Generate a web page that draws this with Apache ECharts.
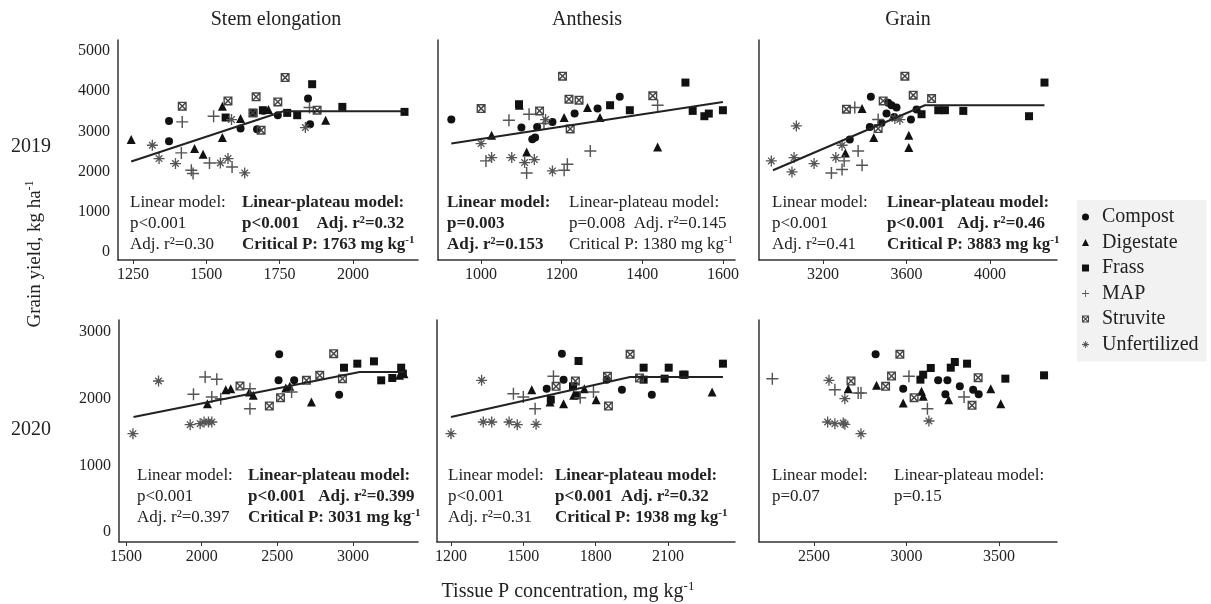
<!DOCTYPE html>
<html>
<head>
<meta charset="utf-8">
<title>Grain yield vs tissue P concentration</title>
<script src="https://cdn.jsdelivr.net/npm/echarts@6.0.0/dist/echarts.min.js"></script>
<style>
  html, body { margin: 0; padding: 0; background: #fff; }
  #main { width: 1211px; height: 604px; }
</style>
</head>
<body>
<div id="main"></div>
<script>
// treatment index used in the 3rd column of each point row
const treatments = ['Compost', 'Digestate', 'Frass', 'MAP', 'Struvite', 'Unfertilized'];

// [tissue P, grain yield, treatment]
const stem2019 = [
  [1244,2794,1],[1316,2653,5],[1339,2322,5],[1373,3259,0],[1373,2753,0],[1418,3234,3],
  [1418,3624,4],[1395,2197,5],[1415,2463,3],[1449,2032,3],[1455,1949,3],[1460,2570,1],
  [1489,2430,1],[1511,2214,3],[1525,3375,3],[1548,2214,5],[1574,2322,5],[1588,2114,3],
  [1631,1965,5],[1555,3624,1],[1574,3756,4],[1555,2844,1],[1566,3342,2],[1586,3292,5],
  [1617,3317,1],[1617,3068,0],[1659,3458,4],[1670,3856,4],[1661,3458,2],[1693,3524,2],
  [1695,3510,0],[1712,3541,1],[1687,3027,4],[1673,3051,0],[1744,3731,4],[1744,3400,0],
  [1769,4337,4],[1776,3458,2],[1810,3400,2],[1847,3814,0],[1861,4171,2],[1852,3590,3],
  [1878,3524,4],[1838,3093,5],[1854,3176,0],[1907,3275,1],[1964,3607,2],[2176,3483,2]
];
const anthesis2019 = [
  [926,3292,0],[1100,3093,0],[1127,2803,0],[1134,2844,0],[1139,3109,0],[1177,3234,0],
  [1232,3441,0],[1289,3566,0],[1344,3856,0],
  [1026,2902,1],[1095,3648,1],[1113,2488,1],[1206,3342,1],[1264,3590,1],[1295,3342,1],[1438,2612,1],
  [1094,3673,2],[1320,3648,2],[1369,3524,2],[1507,4212,2],[1525,3507,2],[1554,3375,2],[1565,3441,2],[1600,3524,2],
  [1012,2264,3],[1069,3275,3],[1113,1965,3],[1119,3425,3],[1156,3192,3],[1206,2032,3],[1214,2181,3],[1271,2512,3],[1438,3648,3],
  [1000,3566,4],[1145,3507,4],[1202,4370,4],[1218,3798,4],[1243,3773,4],[1221,3060,4],[1426,3881,4],
  [1000,2695,5],[1026,2347,5],[1076,2347,5],[1108,2222,5],[1132,2297,5],[1160,3292,5],[1177,2015,5]
];
const grain2019 = [
  [2952,2264,5],[3051,1990,5],[3061,2347,5],[3072,3134,5],[3157,2197,5],[3261,2347,5],[3291,2653,5],[3544,3317,5],[3568,3292,5],
  [3240,1965,3],[3291,2048,3],[3301,2264,3],[3368,2512,3],[3387,2156,3],[3352,3590,3],[3464,3292,3],
  [3307,2463,1],[3387,3566,1],[3443,2844,1],[3611,2902,1],[3611,2595,1],
  [3328,2794,0],[3424,3109,0],[3429,3856,0],[3480,3209,0],[3504,3441,0],[3512,3707,0],
  [3528,3648,0],[3541,3358,0],[3552,3590,0],[3621,3292,0],[3648,3541,0],
  [3312,3549,4],[3464,3068,4],[3488,3756,4],[3592,4370,4],[3632,3897,4],[3720,3814,4],
  [3672,3425,2],[3752,3524,2],[3784,3524,2],[3872,3507,2],[4187,3375,2],[4261,4212,2]
];
const stem2020 = [
  [1546,1475,5],[1715,2265,5],[1924,1610,5],[1990,1625,5],[2016,1650,5],[2045,1650,5],[2067,1650,5],
  [1946,2065,3],[2023,2325,3],[2100,2290,3],[2067,2025,3],[2126,2000,3],[2319,2150,3],[2319,1850,3],[2594,2100,3],
  [2038,1925,1],[2159,2135,1],[2192,2150,1],[2315,2100,1],[2341,2050,1],[2556,2160,1],[2582,2185,1],
  [2725,1950,1],[3307,2350,1],[3336,2375,1],
  [2253,2190,4],[2447,1890,4],[2521,2015,4],[2692,2275,4],[2780,2350,4],[2872,2675,4],[2930,2300,4],
  [2512,2665,0],[2508,2275,0],[2611,2275,0],[2908,2060,0],
  [2940,2465,2],[3028,2525,2],[3138,2560,2],[3186,2275,2],[3259,2310,2],[3318,2465,2],[3329,2375,2]
];
const anthesis2020 = [
  [1200,1475,5],[1327,2275,5],[1334,1650,5],[1369,1650,5],[1441,1650,5],[1475,1610,5],[1553,1615,5],
  [1459,2075,3],[1500,2025,3],[1549,1850,3],[1625,2335,3],[1736,2015,3],[1791,2100,3],
  [1535,2135,1],[1611,1950,1],[1667,1925,1],[1709,2050,1],[1753,2150,1],[1802,1985,1],[2283,2100,1],
  [1597,2150,0],[1660,2675,0],[1667,2285,0],[1846,2285,0],[1909,2135,0],[2033,2060,0],
  [1636,2185,4],[1716,2265,4],[1849,2335,4],[1853,1890,4],[1943,2665,4],[1982,2310,4],
  [1614,1985,2],[1706,2185,2],[1722,2050,2],[1729,2565,2],[1999,2465,2],[1999,2285,2],
  [2086,2300,2],[2103,2465,2],[2163,2360,2],[2169,2360,2],[2328,2525,2]
];
const grain2020 = [
  [2275,2300,3],[2613,2135,3],[2739,2085,3],[2754,2085,3],[3013,2335,3],[3113,1850,3],[3311,2025,3],
  [2581,2275,5],[2667,2000,5],[2574,1650,5],[2613,1625,5],[2658,1635,5],[2667,1615,5],[2754,1475,5],[3121,1665,5],
  [2700,2265,4],[2964,2665,4],[2887,2185,4],[2919,2340,4],[3041,2015,4],[3354,1900,4],[3387,2315,4],
  [2685,2150,1],[2838,2200,1],[2982,1935,1],[3081,2110,1],[3090,2035,1],[3228,1985,1],[3455,2150,1],[3509,1925,1],
  [2833,2665,0],[2982,2150,0],[3171,2275,0],[3221,2275,0],[3210,2065,0],[3288,2185,0],[3360,2135,0],[3390,2065,0],
  [3075,2285,2],[3090,2360,2],[3131,2460,2],[3239,2465,2],[3261,2550,2],[3327,2525,2],[3534,2300,2],[3743,2350,2]
];

// fitted model lines
const stem2019Fit = [[1244,2250],[1763,3500],[2176,3500]];
const anthesis2019Fit = [[926,2695],[1600,3731]];
const grain2019Fit = [[2960,2032],[3688,3648],[4261,3648]];
const stem2020Fit = [[1550,1725],[3044,2400],[3340,2400]];
const anthesis2020Fit = [[1200,1725],[1943,2325],[2328,2325]];

// tick labels
const yTicks2019 = [0,1000,2000,3000,4000,5000];
const yTicks2020 = [0,1000,2000,3000];
const stem2019Ticks = [1250,1500,1750,2000];
const anthesis2019Ticks = [1000,1200,1400,1600];
const grain2019Ticks = [3200,3600,4000];
const stem2020Ticks = [1500,2000,2500,3000];
const anthesis2020Ticks = [1200,1500,1800,2100];
const grain2020Ticks = [2500,3000,3500];

const FONT = '"Liberation Serif", "Times New Roman", serif';

const PLUS = 'path://M4.4,0 L5.6,0 L5.6,4.4 L10,4.4 L10,5.6 L5.6,5.6 L5.6,10 L4.4,10 L4.4,5.6 L0,5.6 L0,4.4 L4.4,4.4 Z';
const STAR = 'path://M0,8.8 L20,8.8 L20,11.2 L0,11.2 Z M8.8,0 L11.2,0 L11.2,20 L8.8,20 Z ' +
  'M4.84,3.14 L16.86,15.16 L15.16,16.86 L3.14,4.84 Z M3.14,15.16 L15.16,3.14 L16.86,4.84 L4.84,16.86 Z';
const BOXX = 'path://M0,0 L10,0 L10,10 L0,10 Z M1.5,1.5 L1.5,8.5 L8.5,8.5 L8.5,1.5 Z ' +
  'M2.07,0.93 L9.07,7.93 L7.93,9.07 L0.93,2.07 Z M0.93,7.93 L7.93,0.93 L9.07,2.07 L2.07,9.07 Z';

const markers = [
  { symbol: 'circle', size: 8, color: '#111' },
  { symbol: 'triangle', size: 9, color: '#111' },
  { symbol: 'rect', size: 8, color: '#111' },
  { symbol: PLUS, size: 12, color: '#555' },
  { symbol: BOXX, size: 9, color: '#444' },
  { symbol: STAR, size: 11, color: '#555' }
];

const panels = [
  { pts: stem2019, fit: stem2019Fit, xt: stem2019Ticks, yt: yTicks2019, xr: [1199, 2222], yr: [-200, 5270], box: [118, 40, 300, 220], yLab: true },
  { pts: anthesis2019, fit: anthesis2019Fit, xt: anthesis2019Ticks, yt: yTicks2019, xr: [893, 1630], yr: [-200, 5270], box: [438, 40, 297, 220] },
  { pts: grain2019, fit: grain2019Fit, xt: grain2019Ticks, yt: yTicks2019, xr: [2893, 4321], yr: [-200, 5270], box: [759, 40, 298, 220] },
  { pts: stem2020, fit: stem2020Fit, xt: stem2020Ticks, yt: yTicks2020, xr: [1454, 3429], yr: [-150, 3180], box: [119, 320, 299, 222], yLab: true },
  { pts: anthesis2020, fit: anthesis2020Fit, xt: anthesis2020Ticks, yt: yTicks2020, xr: [1142, 2378], yr: [-150, 3180], box: [437, 320, 298, 222] },
  { pts: grain2020, fit: null, xt: grain2020Ticks, yt: yTicks2020, xr: [2203, 3813], yr: [-150, 3180], box: [759, 320, 298, 222] }
];

const axisLine = { onZero: false, lineStyle: { color: '#333', width: 1.5 } };
const plain = v => String(v);

const grid = [], xAxis = [], yAxis = [], series = [];
panels.forEach((p, i) => {
  grid.push({ left: p.box[0], top: p.box[1], width: p.box[2], height: p.box[3] });
  xAxis.push({
    type: 'value', gridIndex: i, min: p.xr[0], max: p.xr[1],
    axisLine: axisLine,
    axisTick: { show: true, length: 4, customValues: p.xt, lineStyle: { color: '#333' } },
    axisLabel: { customValues: p.xt, formatter: plain, fontFamily: FONT, fontSize: 16, color: '#222', margin: 7 },
    splitLine: { show: false }
  });
  yAxis.push({
    type: 'value', gridIndex: i, min: p.yr[0], max: p.yr[1],
    axisLine: axisLine,
    axisTick: { show: false },
    axisLabel: { show: !!p.yLab, customValues: p.yt, formatter: plain, fontFamily: FONT, fontSize: 16, color: '#222', margin: 8 },
    splitLine: { show: false }
  });
  treatments.forEach((name, t) => {
    const m = markers[t];
    series.push({
      name: name, type: 'scatter', xAxisIndex: i, yAxisIndex: i,
      symbol: m.symbol, symbolSize: m.size,
      itemStyle: { color: m.color, opacity: 1 },
      data: p.pts.filter(r => r[2] === t).map(r => [r[0], r[1]])
    });
  });
  if (p.fit) {
    series.push({
      name: 'fit', type: 'line', xAxisIndex: i, yAxisIndex: i,
      data: p.fit, showSymbol: false, silent: true, z: 3,
      lineStyle: { color: '#222', width: 2 }
    });
  }
});

const SUP = { sup: { fontSize: 11, verticalAlign: 'top', lineHeight: 12 } };

// model summary text blocks: [x, first line centre y, lines, bold]
const notes = [
  [130, 203, ['Linear model:', 'p<0.001', 'Adj. r²=0.30'], false],
  [242, 203, ['Linear-plateau model:', 'p<0.001    Adj. r²=0.32', 'Critical P: 1763 mg kg{sup|-1}'], true],
  [447, 203, ['Linear model:', 'p=0.003', 'Adj. r²=0.153'], true],
  [569, 203, ['Linear-plateau model:', 'p=0.008  Adj. r²=0.145', 'Critical P: 1380 mg kg{sup|-1}'], false],
  [772, 203, ['Linear model:', 'p<0.001', 'Adj. r²=0.41'], false],
  [887, 203, ['Linear-plateau model:', 'p<0.001   Adj. r²=0.46', 'Critical P: 3883 mg kg{sup|-1}'], true],
  [137, 476, ['Linear model:', 'p<0.001', 'Adj. r²=0.397'], false],
  [248, 476, ['Linear-plateau model:', 'p<0.001   Adj. r²=0.399', 'Critical P: 3031 mg kg{sup|-1}'], true],
  [448, 476, ['Linear model:', 'p<0.001', 'Adj. r²=0.31'], false],
  [555, 476, ['Linear-plateau model:', 'p<0.001  Adj. r²=0.32', 'Critical P: 1938 mg kg{sup|-1}'], true],
  [772, 476, ['Linear model:', 'p=0.07'], false],
  [894, 476, ['Linear-plateau model:', 'p=0.15'], false]
];

const graphic = notes.map(n => {
  const font = (n[3] ? 'bold ' : '') + '17px ' + FONT;
  return {
    type: 'text', x: n[0], y: n[1] - 10.5, z: 10,
    style: {
      text: n[2].join('\n'), fill: '#222', lineHeight: 21, font: font, verticalAlign: 'top',
      rich: { sup: { fontSize: 11, fontWeight: n[3] ? 'bold' : 'normal', fontFamily: FONT, verticalAlign: 'top', lineHeight: 12 } }
    }
  };
});

const heads = [[276, 20, 'Stem elongation'], [587, 20, 'Anthesis'], [908, 20, 'Grain'],
  [31, 147, '2019'], [31, 430, '2020'], [568, 592, 'Tissue P concentration, mg kg{sup|-1}']];
heads.forEach(h => graphic.push({
  type: 'text', x: h[0], y: h[1],
  style: { text: h[2], fill: '#222', font: '20px ' + FONT, align: 'center', verticalAlign: 'middle', lineHeight: 24,
    rich: { sup: { fontSize: 13, fontFamily: FONT, verticalAlign: 'top', lineHeight: 14 } } }
}));
graphic.push({
  type: 'text', x: 35, y: 254, rotation: Math.PI / 2,
  style: { text: 'Grain yield, kg ha{sup|-1}', fill: '#222', font: '19px ' + FONT, align: 'center', verticalAlign: 'middle', lineHeight: 23,
    rich: { sup: { fontSize: 12, fontFamily: FONT, verticalAlign: 'top', lineHeight: 13 } } }
});

const chart = echarts.init(document.getElementById('main'));
chart.setOption({
  animation: false,
  backgroundColor: '#fff',
  legend: {
    orient: 'vertical', left: 1077, top: 200,
    backgroundColor: '#f2f2f2', padding: [7, 8, 7, 5],
    itemWidth: 7, itemHeight: 7, itemGap: 5.5,
    data: treatments.map((n, t) => ({ name: n, icon: markers[t].symbol })),
    textStyle: { fontFamily: FONT, fontSize: 20, lineHeight: 20, color: '#222', padding: [0, 0, 0, 8] }
  },
  grid: grid,
  xAxis: xAxis,
  yAxis: yAxis,
  series: series,
  graphic: graphic
});
</script>
</body>
</html>
